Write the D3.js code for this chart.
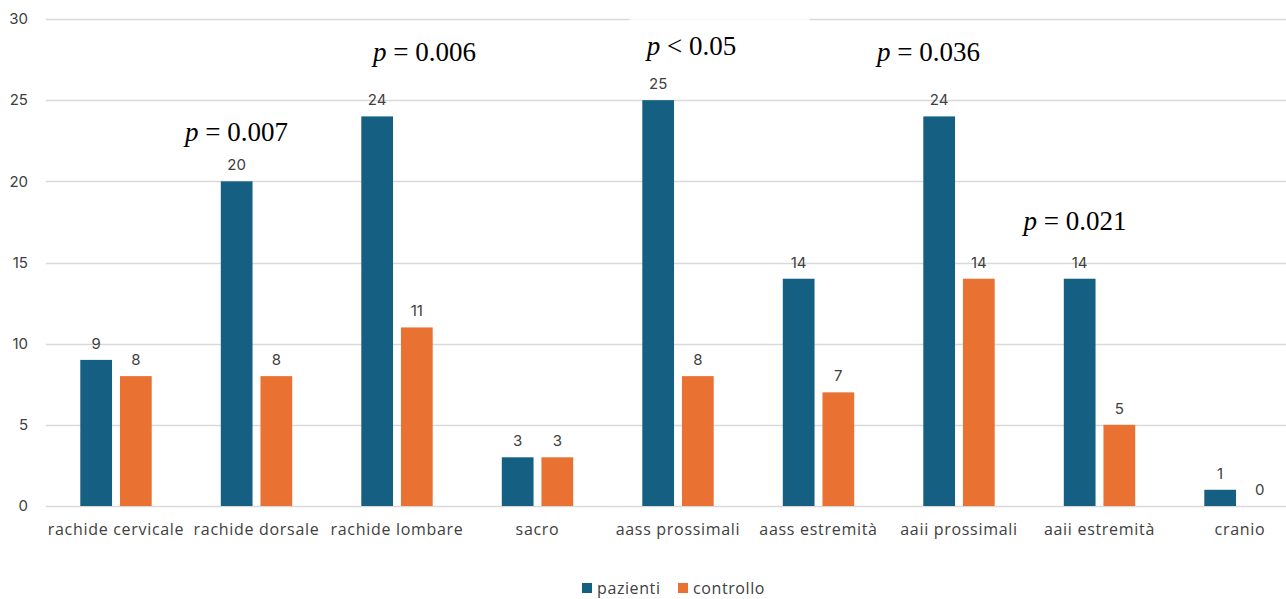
<!DOCTYPE html>
<html>
<head>
<meta charset="utf-8">
<script src="https://cdn.jsdelivr.net/npm/d3@7"></script>
<style>
  html, body { margin: 0; padding: 0; background: #fff; overflow: hidden; }
  svg { display: block; }
</style>
</head>
<body>
<svg id="chart" width="1286" height="599"></svg>
<script>
// Distribuzione delle sedi: pazienti vs controllo
const categories = ["rachide cervicale", "rachide dorsale", "rachide lombare", "sacro",
  "aass prossimali", "aass estremità", "aaii prossimali", "aaii estremità", "cranio"];
const seriesNames = ["pazienti", "controllo"];
const pazienti = [9, 20, 24, 3, 25, 14, 24, 14, 1];
const controllo = [8, 8, 11, 3, 8, 7, 14, 5, 0];
const yTicks = [0, 5, 10, 15, 20, 25, 30];

// p-value annotations: category, height (axis units), horizontal offset, text parts
const pCategories = ["rachide dorsale", "rachide lombare", "aass prossimali", "aaii prossimali", "aaii estremità"];
const pRelations = ["=", "=", "<", "=", "="];
const pValues = ["0.007", "0.006", "0.05", "0.036", "0.021"];
const pLevels = [22.5, 27.4, 27.8, 27.4, 17.0];
const pOffsets = [-20, 27.5, 13.5, -30.5, -24.5];

const colors = { pazienti: "#156082", controllo: "#E97132" };
const textColor = "#404040";
const numFont = "Inter, 'Open Sans', sans-serif";
const wordFont = "'Open Sans', Inter, sans-serif";

const svg = d3.select("#chart");
const margin = { left: 45.75, right: -24.25, top: 19, bottom: 93 };
const W = 1286, H = 599;

const x0 = d3.scaleBand()
  .domain(categories)
  .range([margin.left, W - margin.right])
  .padding(0);

const groupWidth = 71.4;
const x1 = d3.scaleBand()
  .domain(seriesNames)
  .range([0, groupWidth])
  .paddingInner(0.2);

const y = d3.scaleLinear()
  .domain([0, 30])
  .range([H - margin.bottom, margin.top]);

// gridlines
svg.append("g")
  .selectAll("line")
  .data(yTicks)
  .join("line")
  .attr("x1", margin.left)
  .attr("x2", W)
  .attr("y1", d => Math.round(y(d)) + 0.5)
  .attr("y2", d => Math.round(y(d)) + 0.5)
  .attr("stroke", "#d9d9d9")
  .attr("stroke-width", 1.3);

// y axis labels
svg.append("g")
  .selectAll("text")
  .data(yTicks)
  .join("text")
  .attr("x", 28)
  .attr("y", d => y(d))
  .attr("dy", "0.35em")
  .attr("text-anchor", "end")
  .attr("font-family", numFont)
  .attr("font-size", 15)
  .attr("fill", textColor)
  .text(d => d);

const rows = categories.map((c, i) => ({ cat: c, values: [
  { key: "pazienti", value: pazienti[i] },
  { key: "controllo", value: controllo[i] }
]}));

const groupOffset = (x0.bandwidth() - groupWidth) / 2;

const groups = svg.append("g")
  .selectAll("g")
  .data(rows)
  .join("g")
  .attr("transform", d => `translate(${x0(d.cat) + groupOffset},0)`);

groups.selectAll("rect")
  .data(d => d.values)
  .join("rect")
  .attr("x", d => x1(d.key))
  .attr("width", x1.bandwidth())
  .attr("y", d => y(d.value))
  .attr("height", d => y(0) - y(d.value))
  .attr("fill", d => colors[d.key]);

groups.selectAll("text")
  .data(d => d.values)
  .join("text")
  .attr("x", d => x1(d.key) + x1.bandwidth() / 2)
  .attr("y", d => y(d.value) - 11)
  .attr("text-anchor", "middle")
  .attr("font-family", numFont)
  .attr("font-size", 15)
  .attr("fill", textColor)
  .text(d => d.value);

// category labels
svg.append("g")
  .selectAll("text")
  .data(categories)
  .join("text")
  .attr("x", d => x0(d) + x0.bandwidth() / 2)
  .attr("y", y(0) + 29)
  .attr("text-anchor", "middle")
  .attr("font-family", wordFont)
  .attr("font-size", 16)
  .attr("letter-spacing", 0.7)
  .attr("fill", textColor)
  .text(d => d);

// p-value annotations
const ann = pCategories.map((c, i) => ({
  cx: x0(c) + x0.bandwidth() / 2 + pOffsets[i],
  y: y(pLevels[i]),
  rel: pRelations[i],
  val: pValues[i]
}));

// translucent backing box behind the "<" annotation
const boxed = ann[2];
svg.append("rect")
  .attr("x", boxed.cx - 62)
  .attr("y", boxed.y - 42)
  .attr("width", 180)
  .attr("height", 52)
  .attr("fill", "#fff")
  .attr("fill-opacity", 0.8);

const annText = svg.append("g")
  .selectAll("text")
  .data(ann)
  .join("text")
  .attr("x", d => d.cx)
  .attr("y", d => d.y)
  .attr("text-anchor", "middle")
  .attr("font-family", "'Liberation Serif', 'Times New Roman', serif")
  .attr("font-size", 27)
  .attr("fill", "#000");

annText.append("tspan").attr("font-style", "italic").text("p");
annText.append("tspan").text(d => ` ${d.rel} ${d.val}`);

// legend
const legend = svg.append("g").attr("transform", "translate(582,583)");
const legendX = [0, 96];
seriesNames.forEach((s, i) => {
  const g = legend.append("g").attr("transform", `translate(${legendX[i]},0)`);
  g.append("rect").attr("width", 10).attr("height", 10).attr("fill", colors[s]);
  g.append("text")
    .attr("x", 15)
    .attr("y", 5)
    .attr("dy", "0.35em")
    .attr("font-family", wordFont)
    .attr("font-size", 16)
    .attr("letter-spacing", 0.6)
    .attr("fill", textColor)
    .text(s);
});
</script>
</body>
</html>
